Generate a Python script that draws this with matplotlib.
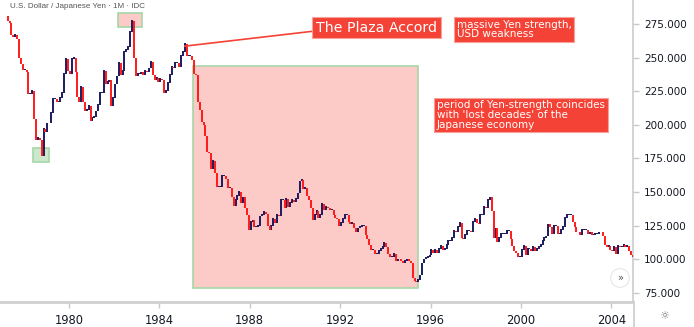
import matplotlib
matplotlib.use('Agg')
import matplotlib.pyplot as plt
from matplotlib.patches import Rectangle

# monthly closes USD/JPY, Apr 1977 .. Dec 2004
START_YEAR = 1977
START_MONTH = 4
first_open = 281

closes = [
    277, 276, 267, 265, 267, 264, 250, 245, 241,                      # 1977
    241, 239, 223, 223, 225, 204, 189, 190, 189, 177, 197, 195,       # 1978
    201, 201, 209, 219, 219, 217, 217, 220, 224, 238, 249, 240,       # 1979
    238, 249, 250, 239, 221, 217, 228, 217, 210, 211, 214, 203,       # 1980
    205, 206, 210, 215, 224, 224, 240, 230, 232, 233, 214, 220,       # 1981
    230, 236, 246, 237, 240, 254, 256, 258, 269, 277, 250, 236,       # 1982
    238, 238, 239, 237, 240, 239, 242, 247, 237, 233, 235, 232,       # 1983
    234, 233, 224, 225, 231, 237, 243, 242, 246, 246, 243, 251,       # 1984
    254, 260, 251, 251, 251, 248, 238, 237, 217, 211, 202, 200,       # 1985
    192, 180, 179, 167, 173, 164, 154, 154, 154, 162, 162, 160,       # 1986
    153, 153, 146, 140, 144, 147, 150, 142, 146, 138, 133, 122,       # 1987
    128, 129, 124, 124, 125, 132, 133, 135, 134, 125, 122, 125,       # 1988
    130, 127, 133, 132, 144, 144, 138, 145, 139, 142, 144, 143,       # 1989
    145, 149, 158, 159, 152, 153, 147, 144, 138, 129, 133, 136,       # 1990
    131, 133, 141, 137, 139, 138, 137, 137, 133, 131, 130, 125,       # 1991
    127, 130, 133, 133, 128, 126, 127, 123, 120, 123, 124, 125,       # 1992
    125, 118, 115, 111, 107, 107, 104, 104, 106, 108, 109, 112,       # 1993
    109, 104, 102, 102, 104, 99, 100, 100, 99, 97, 99, 100,           # 1994
    99, 97, 86, 84, 83, 85, 88, 97, 100, 101, 102, 103,               # 1995
    107, 105, 107, 105, 108, 110, 107, 108, 111, 114, 114, 116,       # 1996
    121, 120, 124, 127, 116, 115, 118, 121, 121, 120, 128, 130,       # 1997
    127, 126, 133, 133, 139, 138, 144, 146, 136, 116, 123, 113,       # 1998
    116, 119, 119, 119, 121, 121, 115, 110, 106, 105, 102, 102,       # 1999
    107, 110, 103, 108, 108, 106, 109, 106, 108, 109, 111, 114,       # 2000
    116, 117, 126, 124, 119, 125, 125, 119, 119, 122, 124, 131,       # 2001
    133, 133, 133, 128, 124, 120, 120, 118, 122, 122, 122, 119,       # 2002
    120, 118, 118, 119, 119, 120, 120, 117, 111, 109, 110, 107,       # 2003
    106, 109, 104, 110, 109, 109, 111, 109, 110, 106, 103, 102,       # 2004
]

yticks = [75, 100, 125, 150, 175, 200, 225, 250, 275]
xticks = [1980, 1984, 1988, 1992, 1996, 2000, 2004]

UP = '#1c1a5e'
DOWN = '#ff1a1a'
BOX = '#f44336'
GREEN = '#a5d6a7'

W, H = 694, 327
fig = plt.figure(figsize=(W / 100, H / 100), dpi=100)
ax = fig.add_axes([0, 25 / H, 633 / W, 1 - 25 / H])

xs = [START_YEAR + (START_MONTH - 1 + i + 0.5) / 12 for i in range(len(closes))]
opens = [first_open] + closes[:-1]
ups_x, ups_lo, ups_hi, dn_x, dn_lo, dn_hi = [], [], [], [], [], []
for x, o, c in zip(xs, opens, closes):
    if c >= o:
        ups_x.append(x); ups_lo.append(o); ups_hi.append(c + 0.6)
    else:
        dn_x.append(x); dn_lo.append(c); dn_hi.append(o)
ax.vlines(ups_x, ups_lo, ups_hi, color=UP, lw=1.4, zorder=3)
ax.vlines(dn_x, dn_lo, dn_hi, color=DOWN, lw=1.4, zorder=3)

# highlighted zones
ax.add_patch(Rectangle((1985.49, 79), 1995.45 - 1985.49, 244 - 79,
                       fc='#fccbc7', ec=GREEN, lw=1.2, zorder=1))
ax.add_patch(Rectangle((1978.41, 172.4), 1979.12 - 1978.41, 182.8 - 172.4,
                       fc='#cbe8cc', ec=GREEN, lw=1.2, zorder=1))
ax.add_patch(Rectangle((1982.17, 272.8), 1983.23 - 1982.17, 283.2 - 272.8,
                       fc='#fccbc7', ec=GREEN, lw=1.2, zorder=1))

# Plaza accord connector
peak_i = xs.index(min(xs, key=lambda v: abs(v - 1985.13)))
ax.plot([xs[peak_i], 1990.76], [closes[peak_i] - 1.5, 269.5],
        color=BOX, lw=1.2, zorder=4, clip_on=False)

ax.set_xlim(1976.95, 1976.95 + 633 / 22.6)
ax.set_ylim(68.3, 292.8)

ax.yaxis.tick_right()
ax.set_yticks(yticks)
ax.set_yticklabels([f'{v:.3f}' for v in yticks])
ax.set_xticks(xticks)
ax.set_xticklabels([str(v) for v in xticks])
ax.tick_params(axis='y', length=4, width=1, color='#c8c8c8', labelsize=7.5,
               labelcolor='#131722', pad=4)
ax.tick_params(axis='x', length=4, width=1, color='#c8c8c8', labelsize=8.3,
               labelcolor='#131722', pad=5)
for s in ['top', 'left']:
    ax.spines[s].set_visible(False)
ax.spines['right'].set_color('#d0d0d0')
ax.spines['right'].set_linewidth(1.3)
ax.spines['bottom'].set_color('#d0d0d0')
ax.spines['bottom'].set_linewidth(2)

fig.add_artist(plt.Line2D([633.5 / W, 633.5 / W], [0, 25 / H],
                          color='#d0d0d0', lw=1.3))

def px(x, y):
    return x / W, 1 - y / H

fig.text(*px(10, 7), 'U.S. Dollar / Japanese Yen · 1M · IDC', fontsize=5.8,
         family='Liberation Sans', color='#555555', va='center', ha='left')

fig.text(*px(316, 27.5), 'The Plaza Accord', fontsize=10.2, color='white',
         va='center', ha='left',
         bbox=dict(boxstyle='square,pad=0.25', fc=BOX, ec='#f8a19a', lw=0.8))
fig.text(*px(457, 29.5), 'massive Yen strength,\nUSD weakness', fontsize=7.5,
         color='white', va='center', ha='left', linespacing=0.95,
         bbox=dict(boxstyle='square,pad=0.25', fc=BOX, ec='#f8a19a', lw=0.8))
fig.text(*px(437, 115), "period of Yen-strength coincides\nwith 'lost decades' of the\nJapanese economy",
         fontsize=7.5, color='white', va='center', ha='left', linespacing=0.95,
         bbox=dict(boxstyle='square,pad=0.25', fc=BOX, ec='#f8a19a', lw=0.8))

fig.text(*px(620, 278), '»', fontsize=7, color='#555555', va='center', ha='center',
         bbox=dict(boxstyle='circle,pad=0.45', fc='white', ec='#e6e6e6', lw=0.8))
fig.text(*px(664, 316), '☼', fontsize=8, color='#777777', va='center', ha='center')

fig.savefig('out.png', dpi=100)
